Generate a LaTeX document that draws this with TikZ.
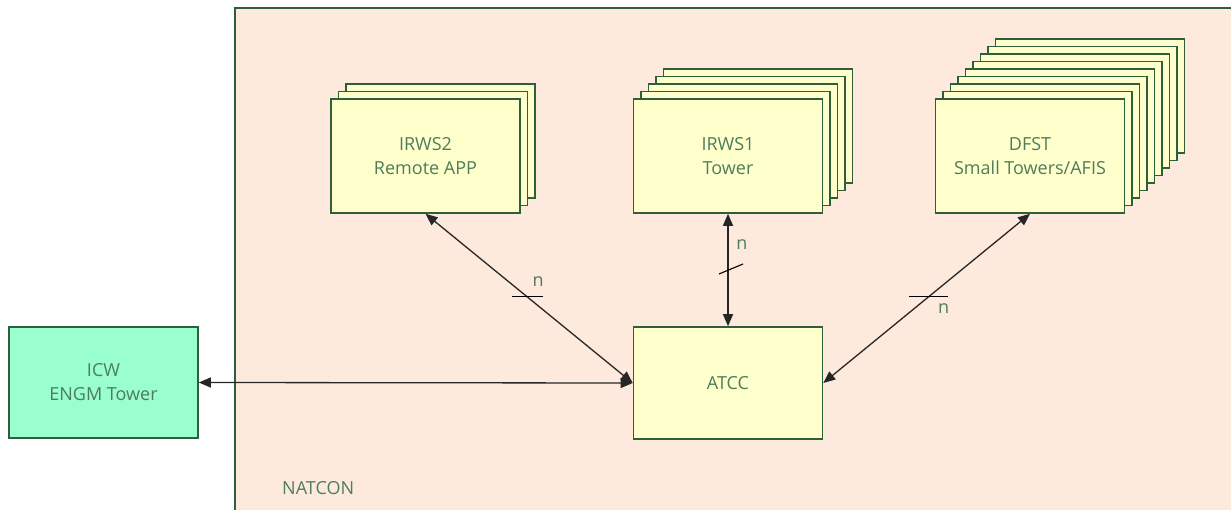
\documentclass[tikz,border=0pt]{standalone}
\usepackage{fontspec}
\setmainfont{Open Sans}
\usepackage{xcolor}
\usepackage{tikz}
\usetikzlibrary{arrows.meta, positioning}

\definecolor{regionfill}{RGB}{253,234,221}
\definecolor{unitfill}{RGB}{255,255,204}
\definecolor{extfill}{RGB}{153,255,204}
\definecolor{edgegreen}{RGB}{46,94,60}
\definecolor{labelgreen}{RGB}{78,124,92}

\begin{document}
\begin{tikzpicture}[x=1pt, y=-1pt,
		unit/.style={shape=rectangle, draw=edgegreen, line width=1.6pt, fill=unitfill,
			minimum width=189pt, minimum height=114pt, inner sep=0pt, align=center,
			text=labelgreen, font=\fontsize{18}{24}\selectfont},
		extunit/.style={unit, fill=extfill, minimum height=111pt},
		link/.style={draw=black!85, line width=1.3pt, {Triangle[length=12pt, width=10pt]}-{Triangle[length=12pt, width=10pt]}},
		tick/.style={draw=black, line width=1.1pt},
		mult/.style={text=labelgreen, font=\fontsize{18}{24}\selectfont, inner sep=0pt, anchor=base}]
		\useasboundingbox (0,0) rectangle (1231,510);
		% NATCON region, runs off the right and bottom edges
		\fill[regionfill] (235,8) rectangle (1245,525);
		\draw[edgegreen, line width=1.6pt] (235,525) -- (235,8) -- (1245,8);
		\node[mult, anchor=base west] (natcon) at (282,494) {NATCON};
		% Stacked workstations: back copies first
		\coordinate (P2) at (425.5,156);
		\coordinate (P1) at (728,156);
		\coordinate (P3) at (1030,156);
		\foreach \k in {2,1}
			\node[unit] at ([shift={(7.5*\k,-7.5*\k)}]P2) {};
		\foreach \k in {4,3,2,1}
			\node[unit] at ([shift={(7.5*\k,-7.5*\k)}]P1) {};
		\foreach \k in {8,7,...,1}
			\node[unit] at ([shift={(7.5*\k,-7.5*\k)}]P3) {};
		\node[unit] (irws2) at (P2) {IRWS2\\Remote APP};
		\node[unit] (irws1) at (P1) {IRWS1\\Tower};
		\node[unit] (dfst) at (P3) {DFST\\Small Towers/AFIS};
		\node[unit, minimum height=112pt] (atcc) at (728,383) {ATCC};
		\node[extunit] (icw) at (103.5,382.5) {ICW\\ENGM Tower};
		% Links
		\draw[link] (icw.east) -- (atcc.west);
		\draw[link] (irws2.south) -- coordinate[pos=0.49] (M2) (atcc.west);
		\draw[link] (irws1.south) -- coordinate[pos=0.5] (M1) (atcc.north);
		\draw[link] (dfst.south) -- coordinate[pos=0.49] (M3) (atcc.east);
		% Multiplicity ticks
		\draw[tick] ([xshift=-15.5pt]M2) -- ([xshift=15.5pt]M2);
		\node[mult] (n2) at ([shift={(11,-10)}]M2) {n};
		\draw[tick] ([shift={(-9,4)}]M1) -- ([shift={(15,-6)}]M1);
		\node[mult] (n1) at ([shift={(14,-20)}]M1) {n};
		\draw[tick] ([xshift=-19.5pt]M3) -- ([xshift=19.5pt]M3);
		\node[mult] (n3) at ([shift={(15,17)}]M3) {n};
	\end{tikzpicture}
\end{document}
